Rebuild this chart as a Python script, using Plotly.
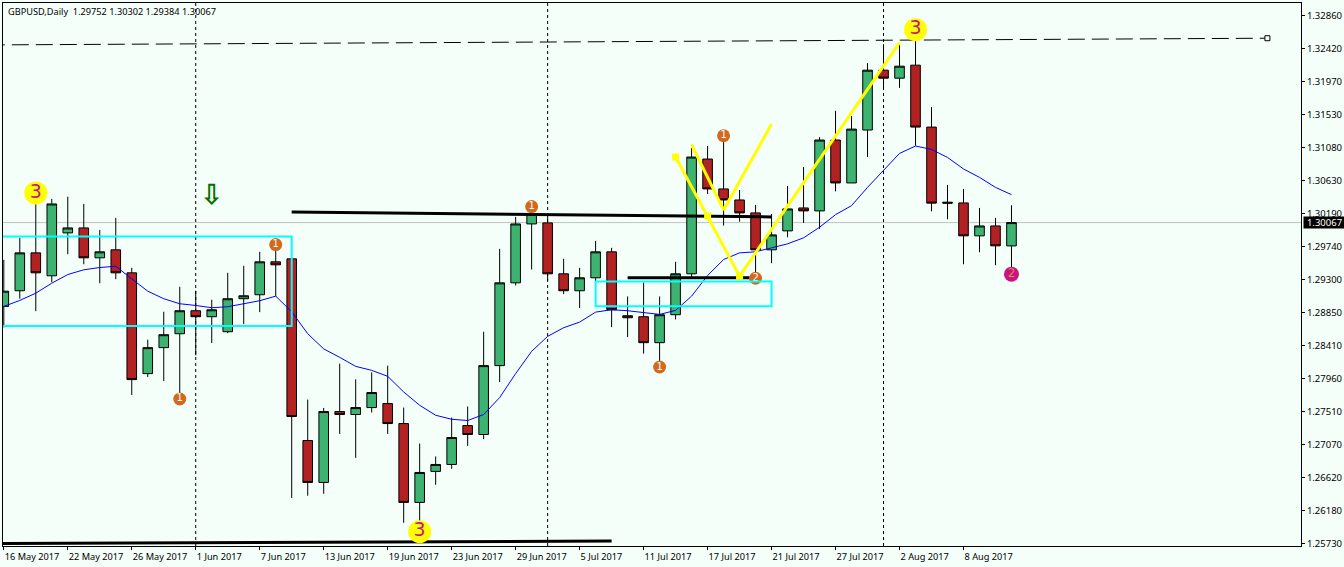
import plotly.graph_objects as go

# ---------- data ----------
open_ = [1.28934,1.29146,1.29658,1.29348,1.29928,1.29995,1.29591,1.29699,1.29388,1.28026,1.28377,1.28565,1.28876,1.28795,1.28592,1.29038,
         1.29092,1.29537,1.29577,1.27122,1.26555,1.27513,1.27473,1.27567,1.27621,1.27351,1.26285,1.26704,1.26798,1.27324,1.27203,1.28134,
         1.29253,1.30049,1.30063,1.29375,1.29146,1.29321,1.29672,1.28808,1.28795,1.28444,1.28822,1.29375,1.30926,1.30522,1.30373,1.30198,
         1.29699,1.29955,1.30265,1.30225,1.31183,1.30603,1.31318,1.32127,1.32019,1.32195,1.31358,1.30343,1.30333,1.29888,1.30022,1.29752]
high = [1.29564,1.29861,1.30458,1.30387,1.30418,1.30319,1.29968,1.30130,1.29456,1.28485,1.28862,1.29200,1.29146,1.29024,1.29388,1.29483,
        1.29672,1.29770,1.29577,1.27675,1.27562,1.28161,1.27949,1.28043,1.28134,1.27567,1.27081,1.26906,1.27432,1.27581,1.28592,1.29712,
        1.30144,1.30341,1.30175,1.29577,1.29456,1.29820,1.29726,1.29069,1.29258,1.29069,1.29537,1.31075,1.31102,1.31241,1.30508,1.30306,
        1.30184,1.30562,1.30818,1.31223,1.31578,1.31506,1.32222,1.32478,1.32482,1.32567,1.31628,1.30576,1.30522,1.30265,1.30130,1.30302]
low = [1.28650,1.29038,1.28870,1.29262,1.29639,1.29504,1.29248,1.29302,1.27737,1.27980,1.27926,1.27693,1.28273,1.28439,1.28573,1.28695,
       1.28857,1.29069,1.26344,1.26375,1.26402,1.27211,1.26887,1.27500,1.27211,1.26010,1.26033,1.26523,1.26739,1.27049,1.27140,1.27912,
       1.29217,1.29433,1.29285,1.29100,1.28911,1.29262,1.28654,1.28520,1.28296,1.28115,1.28758,1.29329,1.30454,1.30027,1.30080,1.29375,
       1.29518,1.29869,1.30063,1.29982,1.30489,1.30603,1.30953,1.31871,1.31888,1.31106,1.30219,1.30112,1.29504,1.29666,1.29491,1.29384]
close = [1.29140,1.29658,1.29388,1.30319,1.29995,1.29591,1.29672,1.29388,1.27945,1.28377,1.28552,1.28876,1.28795,1.28889,1.29038,1.29078,
         1.29537,1.29496,1.27446,1.26555,1.27513,1.27473,1.27567,1.27770,1.27351,1.26285,1.26690,1.26798,1.27162,1.27203,1.28134,1.29253,
         1.30049,1.30188,1.29375,1.29146,1.29321,1.29672,1.28889,1.28781,1.28444,1.28822,1.29375,1.30953,1.30522,1.30373,1.30198,1.29699,
         1.29901,1.30252,1.30225,1.31183,1.30603,1.31331,1.32127,1.32019,1.32181,1.31358,1.30330,1.30330,1.29888,1.30022,1.29753,1.30067]
ma = [1.28934,1.29015,1.29113,1.29248,1.29365,1.29429,1.29460,1.29477,1.29307,1.29140,1.29038,1.28970,1.28947,1.28916,1.28930,1.28970,
      1.29011,1.29073,1.28862,1.28565,1.28360,1.28246,1.28124,1.28070,1.27989,1.27778,1.27598,1.27463,1.27409,1.27392,1.27473,1.27702,
      1.28026,1.28327,1.28529,1.28646,1.28722,1.28857,1.28889,1.28876,1.28853,1.28826,1.28880,1.29073,1.29352,1.29568,1.29658,1.29672,
      1.29726,1.29780,1.29861,1.30004,1.30175,1.30296,1.30543,1.30769,1.31002,1.31102,1.31056,1.30948,1.30792,1.30678,1.30543,1.30445]
bars = list(range(len(open_)))

date_ticks = [0,4,8,12,16,20,24,28,32,36,40,44,48,52,56,60]
date_labels = ["16 May 2017","22 May 2017","26 May 2017","1 Jun 2017","7 Jun 2017","13 Jun 2017","19 Jun 2017","23 Jun 2017",
               "29 Jun 2017","5 Jul 2017","11 Jul 2017","17 Jul 2017","21 Jul 2017","27 Jul 2017","2 Aug 2017","8 Aug 2017"]
price_ticks = [1.32860,1.32420,1.31970,1.31530,1.31080,1.30630,1.30190,1.29740,1.29300,1.28850,1.28410,1.27960,1.27510,1.27070,1.26620,1.26180,1.25730]
price_labels = [f"{v:.5f}" for v in price_ticks]
last_price = 1.30067
title_text = "GBPUSD,Daily  1.29752 1.30302 1.29384 1.30067"

vlines = [12, 34, 55]
dash_x, dash_y = [-1, 79], [1.32468, 1.32559]
top_x, top_y = [18, 48], [1.30211, 1.30144]
mid_x, mid_y = [39, 47], [1.29321, 1.29321]
bot_x, bot_y = [-1, 38], [1.25730, 1.25763]
box1 = (-1, 18, 1.28668, 1.29878)
box2 = (37, 48, 1.28938, 1.29271)
yellow1_x, yellow1_y = [42, 44, 46, 56], [1.30953, 1.30157, 1.29343, 1.32499]
yellow2_x, yellow2_y = [43, 45, 48], [1.31119, 1.30238, 1.31399]
threes_x, threes_y = [2, 26, 57], [1.30468, 1.25889, 1.32675]
ones_x, ones_y = [11, 17, 33, 41, 45], [1.27683, 1.29770, 1.30283, 1.28115, 1.31241]
two_x, two_y = [47], [1.29315]
pink_x, pink_y = [63], [1.29370]
arrow_x, arrow_y = [13], [1.30418]

# ---------- figure ----------
BG = "#F5FFFA"
FONT = "Noto Sans"
fig = go.Figure()

fig.add_trace(go.Candlestick(
    x=bars, open=open_, high=high, low=low, close=close, whiskerwidth=0,
    increasing=dict(line=dict(color="black", width=1), fillcolor="#3CB371"),
    decreasing=dict(line=dict(color="black", width=1), fillcolor="#B22222"),
    showlegend=False))

def line(x, y, color, width, dash="solid"):
    fig.add_trace(go.Scatter(x=x, y=y, mode="lines", showlegend=False, hoverinfo="skip",
                             line=dict(color=color, width=width, dash=dash)))

line(bars, ma, "#0000FF", 1)
line(dash_x, dash_y, "black", 1, "17px,7px")
fig.add_trace(go.Scatter(x=dash_x[1:], y=dash_y[1:], mode="markers", showlegend=False, hoverinfo="skip",
                         marker=dict(symbol="square", size=5, color=BG, line=dict(color="black", width=1))))
line(top_x, top_y, "black", 3)
line(mid_x, mid_y, "black", 3)
line(bot_x, bot_y, "black", 3)
line(yellow1_x, yellow1_y, "#FFFF00", 3)
line(yellow2_x, yellow2_y, "#FFFF00", 3)
fig.add_trace(go.Scatter(x=yellow1_x[:3], y=yellow1_y[:3], mode="markers", showlegend=False, hoverinfo="skip",
                         marker=dict(symbol="square", size=7, color="#FFFF00")))

def badges(x, y, txt, size, color, tcolor, tsize):
    fig.add_trace(go.Scatter(x=x, y=y, mode="markers+text", text=[txt]*len(x), textposition="middle center",
                             showlegend=False, hoverinfo="skip",
                             marker=dict(size=size, color=color, line=dict(width=0)),
                             textfont=dict(family="DejaVu Sans", size=tsize, color=tcolor)))

badges(threes_x, threes_y, "3", 23, "#FFFF00", "#C71585", 19)
badges(ones_x, ones_y, "1", 13, "#D2691E", "#FFFFFF", 10)
badges(two_x, two_y, "2", 13, "#D2691E", "#FFFFFF", 10)
badges(pink_x, pink_y, "2", 15, "#C71585", "#E9853A", 12)
fig.add_trace(go.Scatter(x=arrow_x, y=arrow_y, mode="text", text=["\u21e9"], textposition="middle center",
                         showlegend=False, hoverinfo="skip",
                         textfont=dict(family="DejaVu Sans", size=28, weight="bold", color="#007000")))

shapes = [dict(type="line", xref="paper", x0=0, x1=1, yref="y", y0=last_price, y1=last_price,
               line=dict(color="#C0C0C0", width=1), layer="below")]
for v in vlines:
    shapes.append(dict(type="line", xref="x", x0=v, x1=v, yref="paper", y0=0, y1=1,
                       line=dict(color="black", width=1, dash="3px,3px"), layer="below"))
for b in (box1, box2):
    shapes.append(dict(type="rect", xref="x", yref="y", x0=b[0], x1=b[1], y0=b[2], y1=b[3],
                       line=dict(color="#00FFFF", width=2), fillcolor="rgba(0,0,0,0)", layer="above"))

annotations = [
    dict(text=title_text, xref="paper", yref="paper", x=0, y=1, xanchor="left", yanchor="top", xshift=3, yshift=0,
         showarrow=False, font=dict(family=FONT, size=9.2, color="black")),
    dict(text=f"{last_price:.5f}", xref="paper", yref="y", x=1, y=last_price, xanchor="left", yanchor="middle", xshift=2,
         showarrow=False, bgcolor="black", borderpad=0, font=dict(family=FONT, size=9.5, color="white"), width=41, height=11),
]

fig.update_layout(
    width=1344, height=567, autosize=False,
    margin=dict(l=2.5, r=43, t=2.5, b=21, pad=0),
    paper_bgcolor=BG, plot_bgcolor=BG, showlegend=False,
    boxgap=0.4, boxgroupgap=0, hovermode=False,
    shapes=shapes, annotations=annotations,
    font=dict(family=FONT, size=9.5, color="black"),
    xaxis=dict(range=[-0.05, 81.1], rangeslider=dict(visible=False), tickmode="array",
               tickvals=date_ticks, ticktext=date_labels, ticks="outside", ticklen=3, tickcolor="black",
               ticklabelposition="outside right", ticklabelstandoff=2, tickangle=0, automargin=False, showgrid=False, zeroline=False,
               showline=True, linecolor="black", linewidth=1, mirror=True,
               tickfont=dict(family=FONT, size=9.2, color="black")),
    yaxis=dict(range=[1.25696, 1.33035], side="right", tickmode="array", tickvals=price_ticks, ticktext=price_labels,
               ticks="outside", ticklen=3, tickcolor="black", automargin=False, showgrid=False, zeroline=False,
               showline=True, linecolor="black", linewidth=1, mirror=True,
               tickfont=dict(family=FONT, size=9.5, color="black")),
)

fig.write_html("out.html", config={"displayModeBar": False},
               post_script="document.body.style.margin='0';document.body.style.overflow='hidden';")
